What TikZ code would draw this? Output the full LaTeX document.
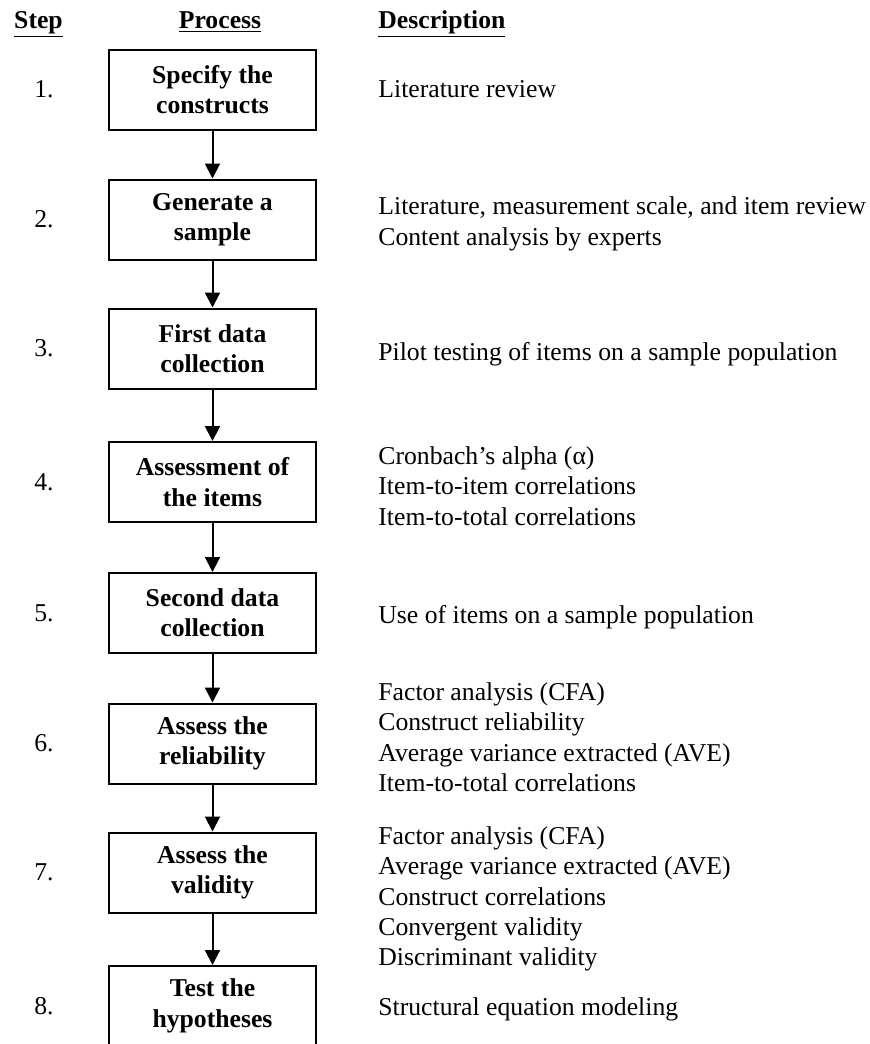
\documentclass[tikz,border=0pt]{standalone}
\usepackage{fontspec}
\setmainfont{Liberation Serif}
\usetikzlibrary{arrows.meta, positioning}

\begin{document}
\begin{tikzpicture}[x=0.5pt, y=-0.5pt, >={Triangle[length=7.5pt, width=7.5pt]},
    font=\fontsize{12.85}{15.2}\selectfont,
    stepbox/.style={draw, line width=1pt, minimum width=103.5pt, minimum height=40pt,
        align=center, inner sep=0pt, font=\fontsize{12.85}{15.2}\selectfont\bfseries},
    numtext/.style={inner sep=0pt},
    desctext/.style={anchor=west, align=left, inner sep=0pt},
    headtext/.style={inner sep=0pt, anchor=base, font=\fontsize{12.85}{15.2}\selectfont\bfseries}]

    \useasboundingbox (0,0) rectangle (870,1044);

    % 1. Column headers
    \node[headtext] (hstep) at (38.5,28.5) {\underline{Step}};
    \node[headtext] (hproc) at (220,28.5) {\underline{Process}};
    \node[headtext, anchor=base west] (hdesc) at (378,28.5) {\underline{Description}};

    % 2. Process boxes
    \node[stepbox] (box1) at (212.5,89.5) {Specify the\\constructs};
    \node[stepbox] (box2) at (212.5,219.5) {Generate a\\sample};
    \node[stepbox] (box3) at (212.5,348.5) {First data\\collection};
    \node[stepbox] (box4) at (212.5,482) {Assessment of\\the items};
    \node[stepbox] (box5) at (212.5,613) {Second data\\collection};
    \node[stepbox] (box6) at (212.5,743.5) {Assess the\\reliability};
    \node[stepbox] (box7) at (212.5,872.5) {Assess the\\validity};
    \node[stepbox] (box8) at (212.5,1006) {Test the\\hypotheses};

    % 3. Step numbers
    \node[numtext] (num1) at (44,89.5) {1.};
    \node[numtext] (num2) at (44,219.5) {2.};
    \node[numtext] (num3) at (44,348.5) {3.};
    \node[numtext] (num4) at (44,482) {4.};
    \node[numtext] (num5) at (44,613) {5.};
    \node[numtext] (num6) at (44,743.5) {6.};
    \node[numtext] (num7) at (44,872.5) {7.};
    \node[numtext] (num8) at (44,1006) {8.};

    % 4. Descriptions
    \node[desctext] (desc1) at (378,89) {Literature review};
    \node[desctext] (desc2) at (378,224) {Literature, measurement scale, and item review\\Content analysis by experts};
    \node[desctext] (desc3) at (378,354) {Pilot testing of items on a sample population};
    \node[desctext] (desc4) at (378,486) {Cronbach’s alpha (α)\\Item-to-item correlations\\Item-to-total correlations};
    \node[desctext] (desc5) at (378,617) {Use of items on a sample population};
    \node[desctext] (desc6) at (378,737) {Factor analysis (CFA)\\Construct reliability\\Average variance extracted (AVE)\\Item-to-total correlations};
    \node[desctext] (desc7) at (378,899) {Factor analysis (CFA)\\Average variance extracted (AVE)\\Construct correlations\\Convergent validity\\Discriminant validity};
    \node[desctext] (desc8) at (378,1009) {Structural equation modeling};

    % 5. Arrows between the boxes
    \foreach \a/\b in {1/2, 2/3, 3/4, 4/5, 5/6, 6/7, 7/8}
        \draw[->, line width=1pt] (box\a) -- (box\b);

\end{tikzpicture}
\end{document}
